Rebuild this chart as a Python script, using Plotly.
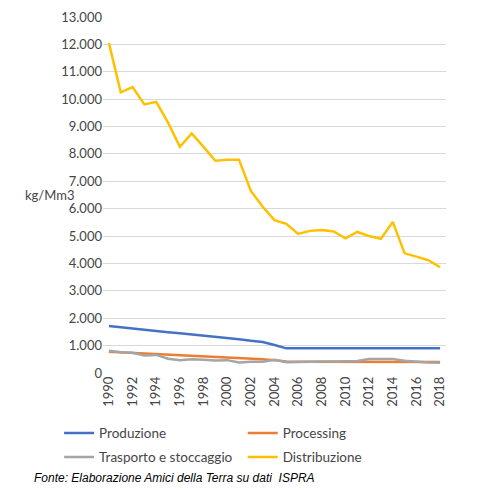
import plotly.graph_objects as go

# Years 1990-2018
years = list(range(1990, 2019))

# kg/Mm3 per stage of the gas chain
produzione = [1720, 1670, 1620, 1580, 1530, 1490, 1450, 1410, 1370, 1330,
              1280, 1230, 1180, 1130, 1020, 900, 900, 900, 900, 900,
              900, 900, 900, 900, 900, 900, 900, 900, 900]
processing = [780, 760, 740, 710, 690, 670, 650, 630, 610, 590,
              570, 550, 520, 500, 470, 420, 410, 410, 400, 400,
              400, 400, 400, 400, 400, 400, 400, 400, 400]
trasporto = [810, 760, 740, 640, 660, 520, 470, 500, 480, 460,
             470, 380, 410, 410, 480, 390, 400, 420, 420, 420,
             440, 440, 510, 510, 510, 450, 410, 380, 370]
distribuzione = [12050, 10250, 10440, 9810, 9900, 9140, 8260, 8750, 8260, 7750,
                 7790, 7790, 6650, 6070, 5580, 5450, 5080, 5190, 5220, 5170,
                 4920, 5150, 5000, 4900, 5520, 4370, 4250, 4120, 3860]

# one legend box per entry, laid out in two columns and two rows
series = [
    ("Produzione", produzione, "#4472C4", "legend", 0.106, 0.118),
    ("Processing", processing, "#ED7D31", "legend2", 0.487, 0.118),
    ("Trasporto e stoccaggio", trasporto, "#A5A5A5", "legend3", 0.106, 0.068),
    ("Distribuzione", distribuzione, "#FFC000", "legend4", 0.487, 0.068),
]

txt = dict(family="Lato, Open Sans, sans-serif", size=13, color="#454545")
leg_font = dict(family="Lato, Open Sans, sans-serif", size=13.5, color="#454545")

fig = go.Figure()
legends = {}
for name, vals, color, leg, lx, ly in series:
    fig.add_trace(go.Scatter(x=years, y=vals, name=name, mode="lines",
                             line=dict(color=color, width=2.5), legend=leg,
                             showlegend=True))
    legends[leg] = dict(orientation="h", xref="container", yref="container",
                        x=lx, y=ly, xanchor="left", yanchor="middle",
                        itemwidth=30, font=leg_font,
                        bgcolor="rgba(0,0,0,0)")

fig.update_layout(
    width=482, height=482,
    margin=dict(l=95, r=44, t=9, b=117, autoexpand=False),
    paper_bgcolor="white", plot_bgcolor="white",
    showlegend=True,
    separators=",.",
    font=txt,
    xaxis=dict(range=[1989.5, 2018.5], tick0=1990, dtick=2, tickangle=-90,
               showgrid=False, zeroline=False, showline=False,
               ticks="", tickfont=txt),
    yaxis=dict(range=[0, 13000], dtick=1000, tickformat=",d",
               showgrid=True, gridcolor="#D9D9D9", gridwidth=1,
               zeroline=False, showline=False, ticks="", tickfont=txt),
    annotations=[
        dict(text="kg/Mm3", xref="paper", yref="paper", x=-0.155, y=0.5,
             xanchor="center", yanchor="middle", showarrow=False, font=txt),
        dict(text="<i>Fonte: Elaborazione Amici della Terra su dati  ISPRA</i>",
             xref="paper", yref="paper", x=-0.207, y=-0.295,
             xanchor="left", yanchor="middle", showarrow=False,
             font=dict(family="Liberation Sans, Arial, sans-serif", size=12,
                       color="#000000")),
    ],
    **legends,
)

fig.write_html("out.html")
